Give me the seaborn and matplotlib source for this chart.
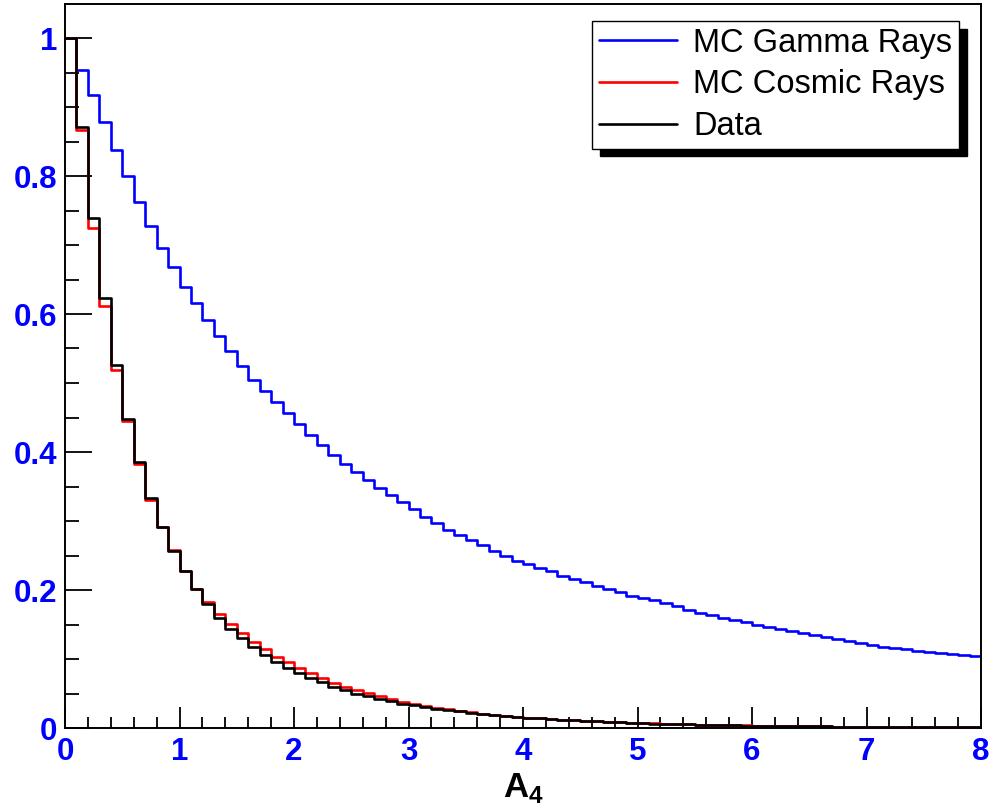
import numpy as np
import pandas as pd
import matplotlib
matplotlib.use("Agg")
import matplotlib.pyplot as plt
from matplotlib.lines import Line2D
from matplotlib.ticker import MultipleLocator, FixedLocator, FixedFormatter
import seaborn as sns

# ---------------- data (normalised histograms, 80 bins of width 0.1 on [0, 8]) -------------
bin_edges = [round(0.1 * i, 1) for i in range(81)]

gamma_mc = [1.000, 0.953, 0.917, 0.878, 0.838, 0.800, 0.763, 0.728, 0.696, 0.668,
            0.639, 0.616, 0.591, 0.568, 0.546, 0.524, 0.505, 0.488, 0.472, 0.457,
            0.441, 0.425, 0.410, 0.396, 0.382, 0.371, 0.359, 0.348, 0.337, 0.327,
            0.317, 0.306, 0.297, 0.287, 0.279, 0.273, 0.265, 0.257, 0.250, 0.242,
            0.237, 0.232, 0.227, 0.221, 0.216, 0.211, 0.206, 0.201, 0.197, 0.192,
            0.188, 0.185, 0.181, 0.177, 0.171, 0.167, 0.164, 0.160, 0.157, 0.154,
            0.150, 0.147, 0.144, 0.141, 0.138, 0.135, 0.132, 0.129, 0.126, 0.123,
            0.121, 0.118, 0.116, 0.114, 0.112, 0.110, 0.108, 0.107, 0.106, 0.105]

cosmic_mc = [1.000, 0.867, 0.724, 0.612, 0.519, 0.445, 0.382, 0.330, 0.291, 0.258,
             0.228, 0.202, 0.183, 0.165, 0.150, 0.138, 0.125, 0.114, 0.103, 0.095,
             0.087, 0.079, 0.072, 0.065, 0.059, 0.055, 0.051, 0.046, 0.042, 0.038,
             0.035, 0.032, 0.029, 0.027, 0.025, 0.023, 0.021, 0.019, 0.018, 0.016,
             0.015, 0.014, 0.013, 0.012, 0.011, 0.0105, 0.0098, 0.0091, 0.0085, 0.0079,
             0.0073, 0.0068, 0.0063, 0.0058, 0.0054, 0.0050, 0.0047, 0.0044, 0.0041, 0.0038,
             0.0035, 0.0033, 0.0030, 0.0028, 0.0026, 0.0024, 0.0023, 0.0021, 0.0020, 0.0018,
             0.0017, 0.0016, 0.0015, 0.0014, 0.0013, 0.0012, 0.0011, 0.0011, 0.0010, 0.0009]

data = [1.000, 0.871, 0.739, 0.623, 0.526, 0.448, 0.385, 0.333, 0.292, 0.257,
        0.227, 0.201, 0.179, 0.160, 0.144, 0.130, 0.117, 0.106, 0.096, 0.087,
        0.079, 0.073, 0.066, 0.060, 0.055, 0.050, 0.046, 0.042, 0.039, 0.035,
        0.033, 0.030, 0.028, 0.026, 0.024, 0.022, 0.020, 0.019, 0.017, 0.016,
        0.015, 0.014, 0.013, 0.012, 0.011, 0.0100, 0.0095, 0.0088, 0.0082, 0.0076,
        0.0070, 0.0065, 0.0060, 0.0056, 0.0052, 0.0048, 0.0045, 0.0042, 0.0039, 0.0036,
        0.0034, 0.0031, 0.0029, 0.0027, 0.0025, 0.0023, 0.0022, 0.0020, 0.0019, 0.0018,
        0.0016, 0.0015, 0.0014, 0.0013, 0.0012, 0.0011, 0.0010, 0.0010, 0.0009, 0.0008]

series_labels = ["MC Gamma Rays", "MC Cosmic Rays", "Data"]
series_colors = ["#0000ff", "#ff0000", "#000000"]

x_ticks = [0, 1, 2, 3, 4, 5, 6, 7, 8]
x_tick_labels = ["0", "1", "2", "3", "4", "5", "6", "7", "8"]
y_ticks = [0, 0.2, 0.4, 0.6, 0.8, 1.0]
y_tick_labels = ["0", "0.2", "0.4", "0.6", "0.8", "1"]
x_label = r"$\mathbf{A}_{\mathbf{4}}$"

# ---------------- style ----------------
sns.set_style("white")
plt.rcParams["font.family"] = ["Liberation Sans", "DejaVu Sans"]
plt.rcParams["text.color"] = "black"
plt.rcParams["mathtext.fontset"] = "custom"
plt.rcParams["mathtext.rm"] = "Liberation Sans"
plt.rcParams["mathtext.bf"] = "Liberation Sans:bold"

W, H = 996, 808
fig = plt.figure(figsize=(W / 100, H / 100), dpi=100)
fig.patch.set_facecolor("white")
ax_left, ax_right, ax_top, ax_bottom = 65, 981, 4, 728
ax = fig.add_axes([ax_left / W, 1 - ax_bottom / H,
                   (ax_right - ax_left) / W, (ax_bottom - ax_top) / H])
ax.set_facecolor("white")

centers = [round((a + b) / 2, 2) for a, b in zip(bin_edges[:-1], bin_edges[1:])]
for vals, col in zip([gamma_mc, cosmic_mc, data], series_colors):
    df = pd.DataFrame({"A4": centers, "w": vals})
    sns.histplot(data=df, x="A4", weights="w", bins=list(bin_edges), element="step",
                 fill=False, color=col, linewidth=1.9, ax=ax)

ax.set_xlim(0, 8)
ax.set_ylim(0, (ax_bottom - ax_top) / 690.0)
ax.set_ylabel("")

# ticks
ax.xaxis.set_major_locator(FixedLocator(x_ticks))
ax.xaxis.set_major_formatter(FixedFormatter(x_tick_labels))
ax.yaxis.set_major_locator(FixedLocator(y_ticks))
ax.yaxis.set_major_formatter(FixedFormatter(y_tick_labels))
ax.xaxis.set_minor_locator(MultipleLocator(0.2))
ax.yaxis.set_minor_locator(MultipleLocator(0.05))
ax.tick_params(axis="x", which="major", direction="in", length=15, width=1.3,
               color="black", bottom=True, top=False, pad=6.5,
               labelsize=22.5, labelcolor="#0000ff")
ax.tick_params(axis="x", which="minor", direction="in", length=8, width=1.3,
               color="black", bottom=True, top=False)
ax.tick_params(axis="y", which="major", direction="in", length=19.5, width=1.3,
               color="black", left=True, right=False, pad=5.5,
               labelsize=22.5, labelcolor="#0000ff")
ax.tick_params(axis="y", which="minor", direction="in", length=10, width=1.3,
               color="black", left=True, right=False)
for lbl in ax.get_xticklabels() + ax.get_yticklabels():
    lbl.set_fontweight("bold")

for sp in ax.spines.values():
    sp.set_visible(True)
    sp.set_color("black")
    sp.set_linewidth(1.4)

ax.set_xlabel(x_label, fontsize=25, color="black")
ax.xaxis.set_label_coords(0.5, -(771 - ax_bottom) / (ax_bottom - ax_top))
ax.xaxis.label.set_verticalalignment("top")

# legend
handles = [Line2D([], [], color=c, linewidth=1.9) for c in series_colors]
leg = ax.legend(handles, series_labels, loc="upper right",
                bbox_to_anchor=(959 / W, 1 - 21 / H), bbox_transform=fig.transFigure,
                borderaxespad=0, fontsize=23.5, frameon=True, fancybox=False,
                framealpha=1, edgecolor="black", handlelength=2.4,
                handletextpad=0.5, labelspacing=0.33, borderpad=0.2,
                labelcolor="black",
                shadow={"ox": 5.5, "oy": -5.5, "facecolor": "black",
                        "edgecolor": "black", "alpha": 1})
leg.get_frame().set_linewidth(1.0)

fig.savefig("out.png", dpi=100, facecolor="white")
